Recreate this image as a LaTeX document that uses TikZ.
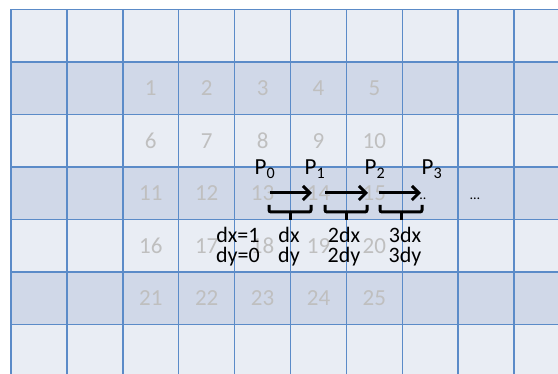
\documentclass[tikz,border=0pt]{standalone}
\usepackage{fontspec}
\setmainfont{Carlito}
\usetikzlibrary{arrows.meta}
\definecolor{rowlight}{HTML}{E9EDF4}
\definecolor{rowdark}{HTML}{D0D8E8}
\definecolor{gridblue}{HTML}{5B8BC8}
\definecolor{numgray}{HTML}{BFBFBF}
\tikzset{
  cellnum/.style={anchor=base, text=numgray, font=\fontsize{23}{26}\selectfont},
  plabel/.style={anchor=base, font=\fontsize{23}{26}\selectfont},
  steplabel/.style={anchor=base, align=center, font=\fontsize{22}{20}\selectfont},
  dotlabel/.style={anchor=base, font=\fontsize{14}{16}\selectfont},
  movearrow/.style={line width=3pt, -{Straight Barb[length=7pt,width=14pt,line width=3pt]}},
  bracket/.style={line width=3pt, rounded corners=2pt}
}
\begin{document}
\begin{tikzpicture}[x=1pt, y=-1pt]
  \useasboundingbox (0,0) rectangle (558,374);
  \clip (0,0) rectangle (558,374);
  % table rows
  \fill[rowlight] (11,9.5) rectangle (558,374);
  \fill[rowdark] (11,62) rectangle (558,114.5);
  \fill[rowdark] (11,167) rectangle (558,219.5);
  \fill[rowdark] (11,272) rectangle (558,324.5);
  \foreach \k in {0,...,9} \draw[gridblue, line width=1.5pt] (11+55.9*\k,9.5) -- (11+55.9*\k,374);
  \foreach \k in {0,...,6} \draw[gridblue, line width=1.5pt] (11,9.5+52.5*\k) -- (558,9.5+52.5*\k);
  % cell numbers
  \node[cellnum] (n1) at (150.8,96) {1}; \node[cellnum] (n2) at (206.7,96) {2};
  \node[cellnum] (n3) at (262.6,96) {3}; \node[cellnum] (n4) at (318.5,96) {4};
  \node[cellnum] (n5) at (374.4,96) {5};
  \node[cellnum] (n6) at (150.8,148.5) {6}; \node[cellnum] (n7) at (206.7,148.5) {7};
  \node[cellnum] (n8) at (262.6,148.5) {8}; \node[cellnum] (n9) at (318.5,148.5) {9};
  \node[cellnum] (n10) at (374.4,148.5) {10};
  \node[cellnum] (n11) at (150.8,201) {11}; \node[cellnum] (n12) at (206.7,201) {12};
  \node[cellnum] (n13) at (262.6,201) {13}; \node[cellnum] (n14) at (318.5,201) {14};
  \node[cellnum] (n15) at (374.4,201) {15};
  \node[cellnum] (n16) at (150.8,253.5) {16}; \node[cellnum] (n17) at (206.7,253.5) {17};
  \node[cellnum] (n18) at (262.6,253.5) {18}; \node[cellnum] (n19) at (318.5,253.5) {19};
  \node[cellnum] (n20) at (374.4,253.5) {20};
  \node[cellnum] (n21) at (150.8,306) {21}; \node[cellnum] (n22) at (206.7,306) {22};
  \node[cellnum] (n23) at (262.6,306) {23}; \node[cellnum] (n24) at (318.5,306) {24};
  \node[cellnum] (n25) at (374.4,306) {25};
  % points
  \node[plabel] (p0) at (265,175) {P\textsubscript{0}};
  \node[plabel] (p1) at (315,175) {P\textsubscript{1}};
  \node[plabel] (p2) at (375,175) {P\textsubscript{2}};
  \node[plabel] (p3) at (432,175) {P\textsubscript{3}};
  \node[dotlabel] (more) at (423,200) {..};
  \node[dotlabel] (rest) at (475,200) {\dots};
  % steps
  \coordinate (s1) at (270,193); \coordinate (e1) at (312,193);
  \coordinate (s2) at (325,193); \coordinate (e2) at (368,193);
  \coordinate (s3) at (379,193); \coordinate (e3) at (421,193);
  \draw[movearrow] (s1) -- (e1);
  \draw[movearrow] (s2) -- (e2);
  \draw[movearrow] (s3) -- (e3);
  \draw[bracket] (269,205) -- (269,212) -- (311,212) -- (311,205); \draw[bracket] (290,212) -- (290,220);
  \draw[bracket] (325,205) -- (325,212) -- (367,212) -- (367,205); \draw[bracket] (346,212) -- (346,220);
  \draw[bracket] (380,205) -- (380,212) -- (422,212) -- (422,205); \draw[bracket] (401,212) -- (401,220);
  \node[steplabel] (d0) at (238,263) {dx=1\\dy=0};
  \node[steplabel] (d1) at (289,263) {dx\\dy};
  \node[steplabel] (d2) at (344,263) {2dx\\2dy};
  \node[steplabel] (d3) at (405,263) {3dx\\3dy};
\end{tikzpicture}
\end{document}
